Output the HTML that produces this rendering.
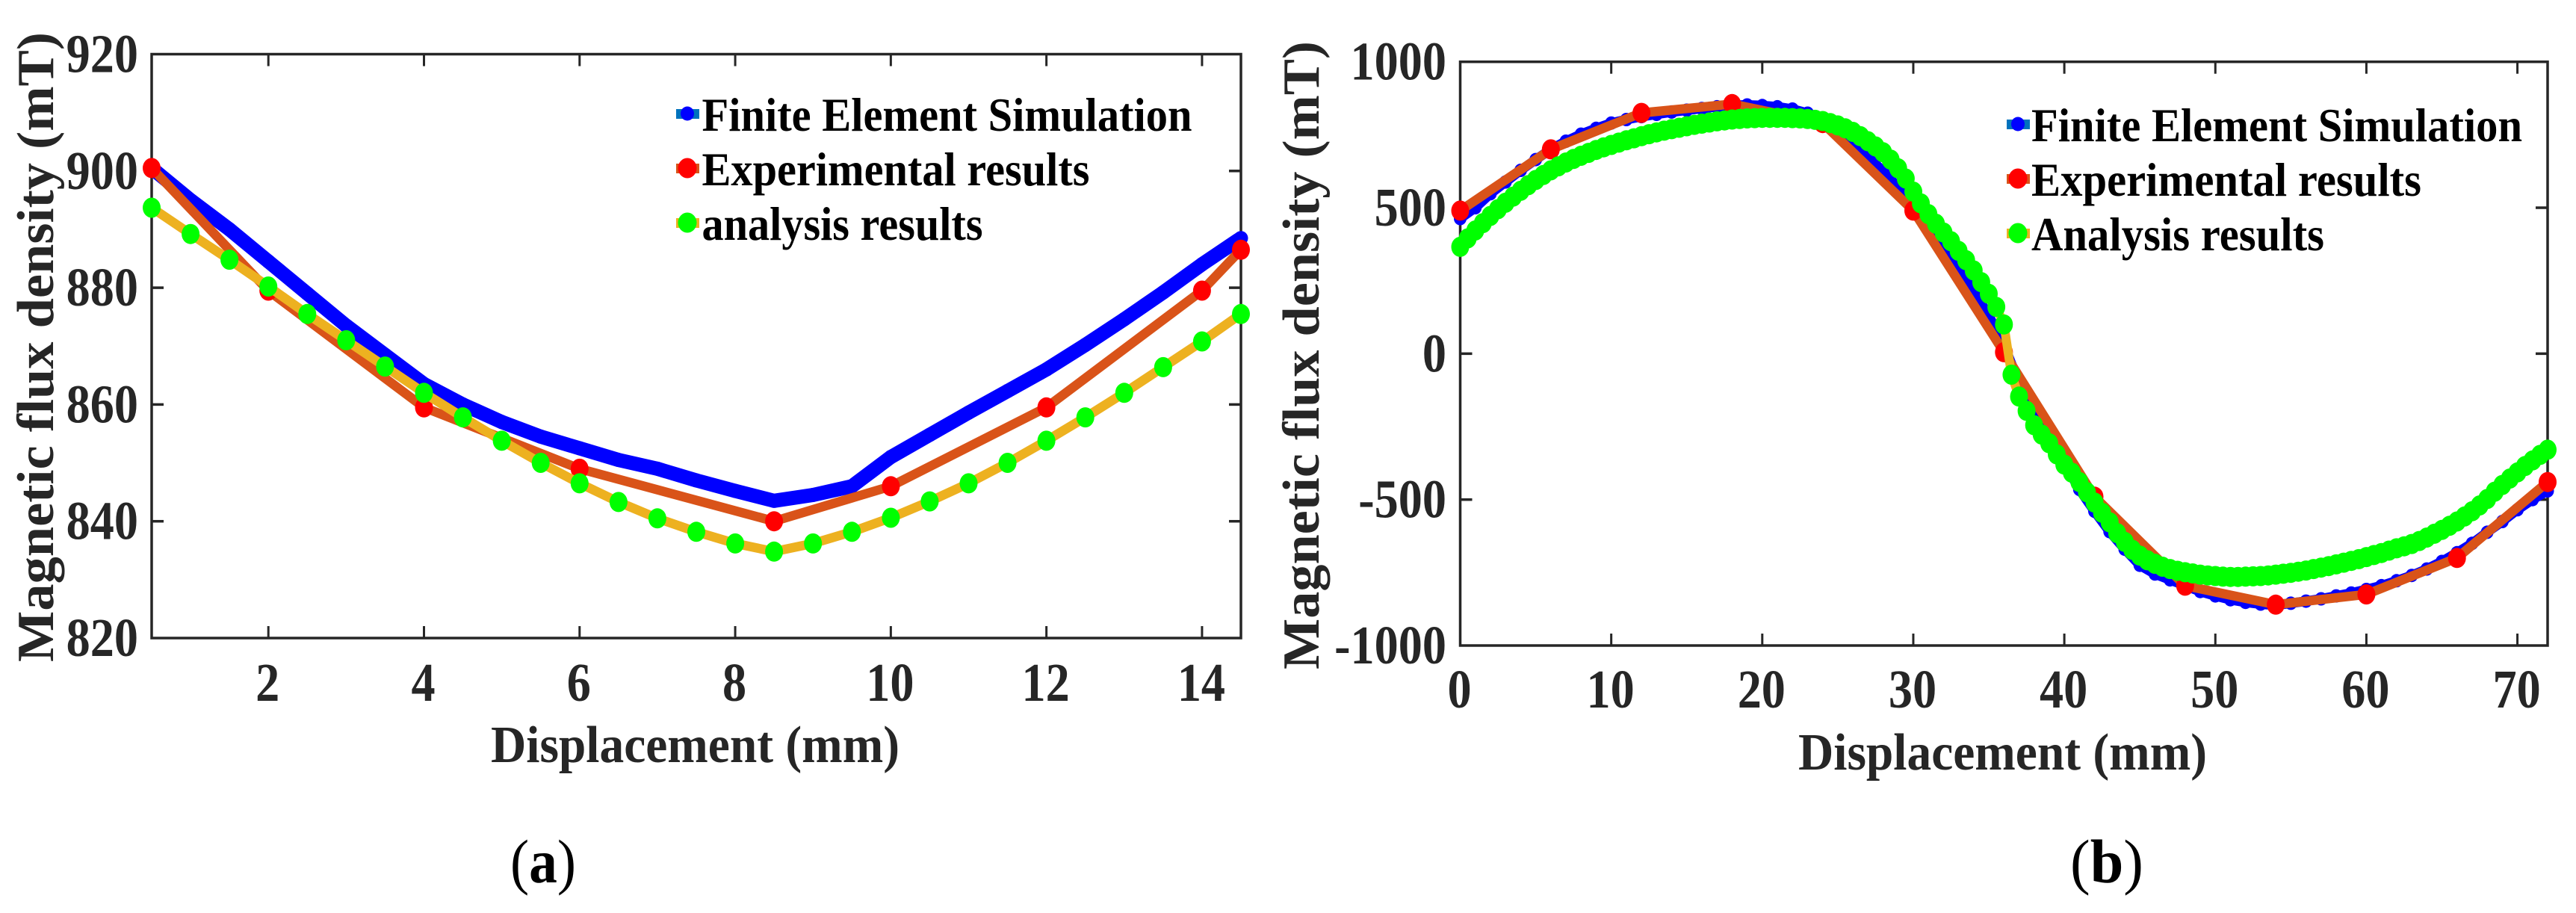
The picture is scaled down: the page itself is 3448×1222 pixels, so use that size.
<!DOCTYPE html>
<html lang="en">
<head>
<meta charset="utf-8">
<title>Magnetic flux density vs displacement</title>
<style>
html,body{margin:0;padding:0;background:#fff;width:3448px;height:1222px;overflow:hidden}
svg{display:block}
text{font-family:"Liberation Serif",serif;font-weight:700}
.tick{fill:#262626;font-size:73px}
.title{fill:#262626;font-size:70px}
.leg{fill:#000;font-size:64px}
.cap{fill:#000;font-size:83px;font-weight:400}
.cap tspan{font-weight:700}
</style>
</head>
<body>
<svg id="figure" xmlns="http://www.w3.org/2000/svg" width="3448" height="1222" viewBox="0 0 3448 1222">
  <g id="panel-a"></g>
  <g id="panel-b"></g>

  <text class="title" x="657" y="1020" textLength="547" lengthAdjust="spacingAndGlyphs">Displacement (mm)</text>
  <text class="title" transform="translate(71,886) rotate(-90)" textLength="843" lengthAdjust="spacingAndGlyphs">Magnetic flux density (mT)</text>
  <text class="title" x="2407" y="1030" textLength="547" lengthAdjust="spacingAndGlyphs">Displacement (mm)</text>
  <text class="title" transform="translate(1765,896) rotate(-90)" textLength="841" lengthAdjust="spacingAndGlyphs">Magnetic flux density (mT)</text>

  <g>
    <rect x="905" y="146" width="31" height="13" fill="#0072BD"/>
    <ellipse cx="920" cy="152" rx="9" ry="9.5" fill="#0000ff"/>
    <text class="leg" x="939.5" y="175" textLength="656" lengthAdjust="spacingAndGlyphs">Finite Element Simulation</text>
    <rect x="905" y="219" width="31" height="13" fill="#D95319"/>
    <ellipse cx="920" cy="225" rx="12.5" ry="13.5" fill="#ff0000"/>
    <text class="leg" x="939.5" y="248" textLength="519" lengthAdjust="spacingAndGlyphs">Experimental results</text>
    <rect x="905" y="292" width="31" height="13" fill="#EDB120"/>
    <ellipse cx="920" cy="298" rx="12.5" ry="13.5" fill="#00ff00"/>
    <text class="leg" x="939.5" y="321" textLength="376" lengthAdjust="spacingAndGlyphs">analysis results</text>
  </g>

  <g>
    <rect x="2686" y="160" width="31" height="13" fill="#0072BD"/>
    <ellipse cx="2701" cy="166" rx="9" ry="9.5" fill="#0000ff"/>
    <text class="leg" x="2719" y="189" textLength="657" lengthAdjust="spacingAndGlyphs">Finite Element Simulation</text>
    <rect x="2686" y="233" width="31" height="13" fill="#D95319"/>
    <ellipse cx="2701" cy="239" rx="12.5" ry="13.5" fill="#ff0000"/>
    <text class="leg" x="2719" y="262" textLength="522" lengthAdjust="spacingAndGlyphs">Experimental results</text>
    <rect x="2686" y="306" width="31" height="13" fill="#EDB120"/>
    <ellipse cx="2701" cy="312" rx="12.5" ry="13.5" fill="#00ff00"/>
    <text class="leg" x="2719" y="335" textLength="392" lengthAdjust="spacingAndGlyphs">Analysis results</text>
  </g>

  <text class="cap" x="683" y="1181" textLength="88" lengthAdjust="spacingAndGlyphs">(<tspan>a</tspan>)</text>
  <text class="cap" x="2771" y="1181" textLength="98" lengthAdjust="spacingAndGlyphs">(<tspan>b</tspan>)</text>
</svg>

<script>
// ----- Panel (a) data -----
const aTicksX = [2, 4, 6, 8, 10, 12, 14];
const aTicksY = [820, 840, 860, 880, 900, 920];
const aFemX = [0.5,1,1.5,2,2.5,3,3.5,4,4.5,5,5.5,6,6.5,7,7.5,8,8.5,9,9.5,10,10.5,11,11.5,12,12.5,13,13.5,14,14.5];
const aFemY = [900.5,895,890,884.5,879,873.5,868.5,863.5,860,857,854.5,852.5,850.5,849,847,845.2,843.5,844.5,846,851,854.8,858.6,862.3,866,870.2,874.6,879.2,884,888.5];
const aExpX = [0.5,2,4,6,8.5,10,12,14,14.5];
const aExpY = [900.5,879.5,859.5,849,840,846,859.5,879.5,886.5];
const aAnaX = [0.5,1,1.5,2,2.5,3,3.5,4,4.5,5,5.5,6,6.5,7,7.5,8,8.5,9,9.5,10,10.5,11,11.5,12,12.5,13,13.5,14,14.5];
const aAnaY = [893.7,889.2,884.8,880.2,875.5,871,866.5,862,857.8,853.8,850,846.5,843.3,840.5,838.2,836.2,834.8,836.2,838.2,840.6,843.4,846.5,850,853.8,857.8,862,866.4,870.8,875.5];

// ----- Panel (b) data -----
const bTicksX = [0, 10, 20, 30, 40, 50, 60, 70];
const bTicksY = [-1000, -500, 0, 500, 1000];
const bFemX = [0,1,2,3,4,5,6,7,8,9,10,11,12,13,14,15,16,17,18,19,20,21,22,23,24,25,26,27,28,29,30,31,32,33,34,35,36,37,38,39,40,41,42,43,44,45,46,47,48,49,50,51,52,53,54,55,56,57,58,59,60,61,62,63,64,65,66,67,68,69,70,71,72];
const bFemY = [463,500,548,588,628,665,700,728,752,772,790,802,812,820,828,834,840,846,851,852,850,846,838,824,800,760,720,675,625,570,510,440,370,295,215,130,30,-100,-190,-285,-375,-465,-540,-610,-670,-725,-755,-775,-795,-815,-830,-843,-852,-858,-862,-855,-848,-840,-830,-820,-808,-795,-778,-760,-738,-712,-682,-650,-612,-575,-535,-500,-470];
const bExpX = [0,6,12,18,24,30,36,42,48,54,60,66,72];
const bExpY = [490,700,825,855,790,490,5,-490,-795,-860,-825,-700,-440];
const bAnaX = [0,0.5,1,1.5,2,2.5,3,3.5,4,4.5,5,5.5,6,6.5,7,7.5,8,8.5,9,9.5,10,10.5,11,11.5,12,12.5,13,13.5,14,14.5,15,15.5,16,16.5,17,17.5,18,18.5,19,19.5,20,20.5,21,21.5,22,22.5,23,23.5,24,24.5,25,25.5,26,26.5,27,27.5,28,28.5,29,29.5,30,30.5,31,31.5,32,32.5,33,33.5,34,34.5,35,35.5,36,36.5,37,37.5,38,38.5,39,39.5,40,40.5,41,41.5,42,42.5,43,43.5,44,44.5,45,45.5,46,46.5,47,47.5,48,48.5,49,49.5,50,50.5,51,51.5,52,52.5,53,53.5,54,54.5,55,55.5,56,56.5,57,57.5,58,58.5,59,59.5,60,60.5,61,61.5,62,62.5,63,63.5,64,64.5,65,65.5,66,66.5,67,67.5,68,68.5,69,69.5,70,70.5,71,71.5,72];
const bAnaY = [366,395,422,447,472,495,517,538,558,577,595,612,628,642,655,667,678,688,698,707,715,723,731,738,745,752,758,764,769,774,779,784,788,792,796,799,802,804,806,807,808,808,808,808,807,806,804,801,797,790,782,772,760,745,728,710,690,665,635,600,555,515,478,445,415,385,352,320,285,245,205,160,100,-72,-147,-196,-245,-277,-307,-345,-380,-408,-440,-475,-510,-545,-578,-615,-645,-672,-692,-708,-720,-730,-738,-744,-749,-753,-757,-760,-762,-764,-765,-765,-764,-763,-762,-760,-757,-754,-751,-747,-743,-738,-733,-728,-722,-716,-710,-704,-697,-690,-683,-675,-667,-660,-652,-642,-630,-617,-604,-590,-575,-558,-540,-520,-498,-473,-450,-428,-407,-385,-366,-347,-329];

const NS = 'http://www.w3.org/2000/svg';

function mk(parent, tag, attrs) {
  const el = document.createElementNS(NS, tag);
  for (const k in attrs) el.setAttribute(k, attrs[k]);
  parent.appendChild(el);
  return el;
}

function drawAxes(g, box, xMin, xMax, yMin, yMax, ticksX, ticksY, xLabelY, yLabelX, labelScale) {
  const sx = v => box.l + (v - xMin) / (xMax - xMin) * (box.r - box.l);
  const sy = v => box.b - (v - yMin) / (yMax - yMin) * (box.b - box.t);
  const frame = mk(g, 'rect', {x: box.l, y: box.t, width: box.r - box.l, height: box.b - box.t, fill: 'none', stroke: '#262626', 'stroke-width': 3.5});
  
  
  ticksX.forEach(v => {
    const x = sx(v);
    if (x > box.l + 1 && x < box.r - 1) {
      const t1 = mk(g, 'line', {x1: x, x2: x, y1: box.b, y2: box.b - 16, stroke: '#262626', 'stroke-width': 3});
      
      
      const t2 = mk(g, 'line', {x1: x, x2: x, y1: box.t, y2: box.t + 16, stroke: '#262626', 'stroke-width': 3});
      
      
    }
    const lab = mk(g, 'text', {class: 'tick', 'text-anchor': 'middle', transform: 'translate(' + (x - 1) + ',' + xLabelY + ') scale(' + labelScale + ',1)'});
    lab.textContent = String(v);
    
    
  });
  ticksY.forEach(v => {
    const y = sy(v);
    if (y > box.t + 1 && y < box.b - 1) {
      const t1 = mk(g, 'line', {x1: box.l, x2: box.l + 16, y1: y, y2: y, stroke: '#262626', 'stroke-width': 3.5});
      
      
      const t2 = mk(g, 'line', {x1: box.r, x2: box.r - 16, y1: y, y2: y, stroke: '#262626', 'stroke-width': 3.5});
      
      
    }
    const lab = mk(g, 'text', {class: 'tick', 'text-anchor': 'end', transform: 'translate(' + yLabelX + ',' + (y + 24) + ') scale(' + labelScale + ',1)'});
    lab.textContent = String(v);
    
    
  });
  return {sx, sy};
}

function drawSeries(g, scale, xs, ys, lineColor, lineWidth, markerColor, rx, ry, name) {
  const pts = xs.map((x, i) => scale.sx(x).toFixed(1) + ',' + scale.sy(ys[i]).toFixed(1)).join(' ');
  const line = mk(g, 'polyline', {points: pts, fill: 'none', stroke: lineColor, 'stroke-width': lineWidth, 'stroke-linejoin': 'round'});
  
  
  xs.forEach((x, i) => {
    const m = mk(g, 'ellipse', {cx: scale.sx(x).toFixed(1), cy: scale.sy(ys[i]).toFixed(1), rx: rx, ry: ry, fill: markerColor});
    
    
  });
}

// Panel (a)
const gA = document.getElementById('panel-a');
const scaleA = drawAxes(gA, {l: 203, r: 1661, t: 72.5, b: 854}, 0.5, 14.5, 820, 920, aTicksX, aTicksY, 938, 185, 0.88);
drawSeries(gA, scaleA, aFemX, aFemY, '#0000ff', 19, '#0000ff', 9.5, 9.5, 'fem-a');
drawSeries(gA, scaleA, aExpX, aExpY, '#D95319', 12.5, '#ff0000', 12, 13.5, 'experimental-a');
drawSeries(gA, scaleA, aAnaX, aAnaY, '#EDB120', 12.5, '#00ff00', 12, 13.5, 'analysis-a');

// Panel (b)
const gB = document.getElementById('panel-b');
const scaleB = drawAxes(gB, {l: 1954.5, r: 3410, t: 82.7, b: 864}, 0, 72, -1000, 1000, bTicksX, bTicksY, 947, 1936, 0.88);
drawSeries(gB, scaleB, bFemX, bFemY, '#0000ff', 13, '#0000ff', 8.5, 9, 'fem-b');
drawSeries(gB, scaleB, bExpX, bExpY, '#D95319', 12.5, '#ff0000', 12, 13.5, 'experimental-b');
drawSeries(gB, scaleB, bAnaX, bAnaY, '#EDB120', 12, '#00ff00', 12, 13.5, 'analysis-b');
</script>
</body>
</html>
